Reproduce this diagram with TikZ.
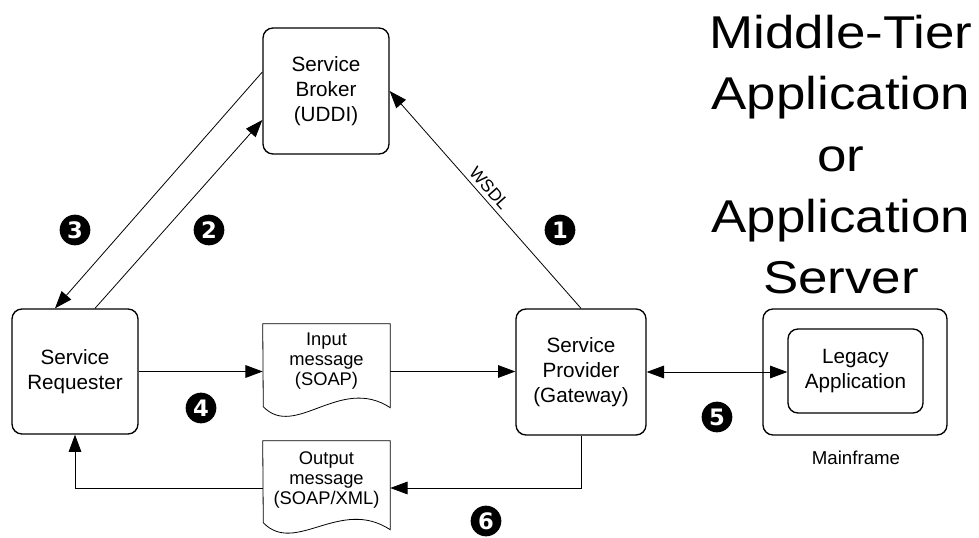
\documentclass[tikz,border=0pt]{standalone}
\usepackage{fontspec}
\setmainfont{Liberation Sans}
\newfontfamily\numfont{DejaVu Sans}
\usetikzlibrary{arrows.meta}
\begin{document}
\begin{tikzpicture}[x=0.75pt,y=-0.75pt,
 box/.style={draw,line width=1pt,rounded corners=7.5pt,align=center,font=\fontsize{15.5}{19}\selectfont,inner sep=0pt},
 doc/.style={align=center,font=\fontsize{13.75}{15}\selectfont,inner sep=0pt,minimum width=95.25pt},
 docline/.style={line width=0.6pt},
 arr/.style={line width=0.6pt,-{Triangle[length=13pt,width=9.5pt]}},
 darr/.style={line width=0.6pt,{Triangle[length=13pt,width=9.5pt]}-{Triangle[length=13pt,width=9.5pt]}},
 numc/.style={circle,fill=black,text=white,inner sep=0pt,minimum size=23pt,font=\numfont\bfseries\fontsize{17}{17}\selectfont},
 title/.style={font=\fontsize{34.5}{46}\selectfont,align=center,inner sep=0pt}]
\useasboundingbox (0,0) rectangle (979,538);

% boxes
\node[box,minimum width=94.5pt,minimum height=94.5pt] (brk) at (326,91) {Service\\Broker\\(UDDI)};
\node[box,minimum width=94.5pt,minimum height=93.75pt] (req) at (75,371.5) {Service\\Requester};
\node[box,minimum width=97.5pt,minimum height=94.5pt] (prov) at (581,372) {Service\\Provider\\(Gateway)};
\node[box,minimum width=138pt,minimum height=94.5pt] (mf) at (855,372) {};
\node[box,minimum width=101.25pt,minimum height=63pt] (leg) at (855.5,371) {Legacy\\Application};
\node[font=\fontsize{14}{14}\selectfont] (mfl) at (856,458) {Mainframe};

% documents
\node[doc,minimum height=56.25pt] (inp) at (326.5,361.5) {Input\\message\\(SOAP)};
\draw[docline] (inp.north west) -- (inp.north east) -- ++(0,84) .. controls +(-50,-33) and +(32,33) .. ++(-127,-1) -- cycle;
\node[doc,minimum height=58.5pt] (out) at (326.5,480) {Output\\message\\(SOAP/XML)};
\draw[docline] (out.north west) -- (out.north east) -- ++(0,89) .. controls +(-50,-33) and +(32,33) .. ++(-127,-7) -- cycle;

% connectors
\draw[arr] (req.east) -- (req.east -| inp.west);
\draw[arr] (req.east -| inp.east) -- (req.east -| prov.west);
\draw[darr] (prov.east) -- (prov.east -| leg.west);
\coordinate (r6) at (prov.south |- 0,488);
\draw[arr] (prov.south) -- (r6) -- (r6 -| out.east);
\draw[arr] (r6 -| out.west) -| (req.south);
\draw[arr] ([yshift=14.25pt]brk.west) -- ([xshift=-15pt]req.north);
\draw[arr] ([xshift=15pt]req.north) -- ([yshift=-21.75pt]brk.west);
\draw[arr] (prov.north) -- node[pos=0.52,sloped,above=3pt,font=\fontsize{13}{13}\selectfont,inner sep=0pt] (wsdl) {WSDL} (brk.east);

% step numbers
\node[numc] (n1) at (560,230) {1};
\node[numc] (n2) at (209,230) {2};
\node[numc] (n3) at (75,230) {3};
\node[numc] (n4) at (201,408) {4};
\node[numc] (n5) at (717,417) {5};
\node[numc] (n6) at (486,521) {6};

% title
\node[title,xscale=1.15,anchor=north] (ttl) at (841,15) {Middle-Tier\\Application\\or\\Application\\Server};
\end{tikzpicture}
\end{document}
